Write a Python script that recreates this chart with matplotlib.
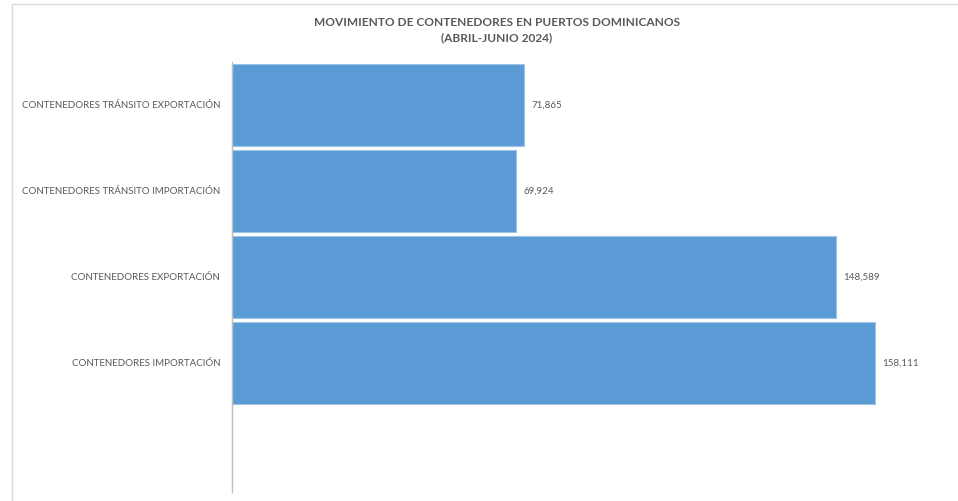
import matplotlib
matplotlib.use("Agg")
import matplotlib.pyplot as plt
from matplotlib.patches import Rectangle

categories = ["CONTENEDORES IMPORTACIÓN", "CONTENEDORES EXPORTACIÓN",
              "CONTENEDORES TRÁNSITO IMPORTACIÓN", "CONTENEDORES TRÁNSITO EXPORTACIÓN"]
values = [158111, 148589, 69924, 71865]
title = "MOVIMIENTO DE CONTENEDORES EN PUERTOS DOMINICANOS\n(ABRIL-JUNIO 2024)"

plt.rcParams['font.family'] = ['Lato', 'DejaVu Sans']
W, H = 958, 501
fig = plt.figure(figsize=(W/100, H/100), dpi=100)

# chart-area border (cropped at right and bottom)
fig.patches.append(Rectangle((12/W, -0.1), 1.2, (H-4)/H + 0.1, transform=fig.transFigure,
                             fill=False, edgecolor="#D9D9D9", linewidth=1))

xmax = 170000
left = 232/W
right_px = 232 + 643/158111*xmax
ax = fig.add_axes([left, (H-492)/H, (right_px-232)/W, 430/H])
ypos = list(range(len(categories)))
ax.barh(ypos, values, height=0.95, color="#5B9BD5", edgecolor="#9DC3E6", linewidth=0.8)
ax.set_ylim(-1.5, 3.5)
ax.set_xlim(0, xmax)
ax.set_yticks(ypos)
ax.set_yticklabels(categories, fontsize=7, color="#595959")
ax.tick_params(axis='y', length=0, pad=8.5)
ax.set_xticks([])
for s in ["top", "right", "bottom"]:
    ax.spines[s].set_visible(False)
ax.spines["left"].set_color("#BFBFBF")
ax.spines["left"].set_linewidth(1)
for y, v in zip(ypos, values):
    ax.annotate(f"{v:,}", (v, y), xytext=(5, 0), textcoords="offset points",
                va="center", ha="left", fontsize=7, color="#595959")

fig.text(497/W, 1 - 30/H, title, ha="center", va="center", fontsize=8.6, fontweight="bold",
         color="#595959", linespacing=1.45)
fig.savefig("out.png", dpi=100)
